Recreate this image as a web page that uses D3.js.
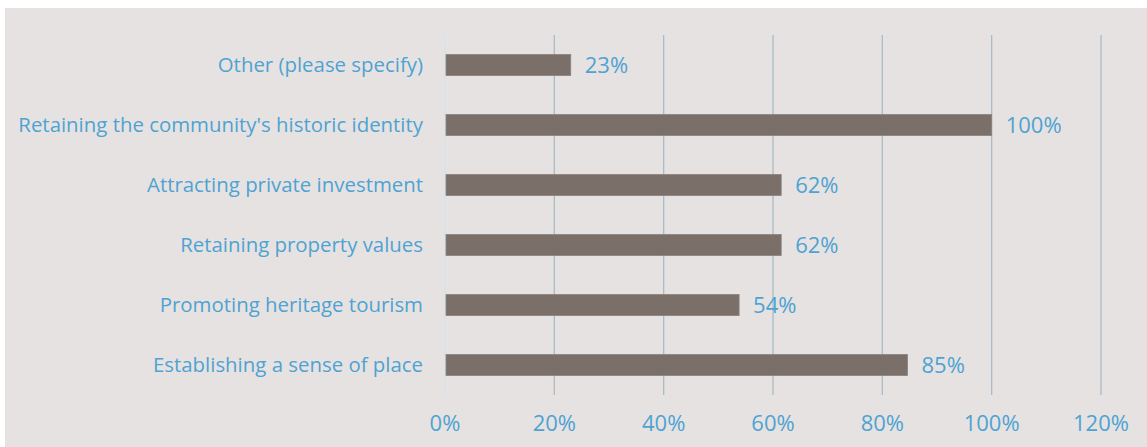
<!DOCTYPE html>
<html>
  <head>
    <meta charset="utf-8">
    <title>Benefits of preservation</title>
    <script src="https://d3js.org/d3.v7.min.js"></script>
    <style>
      body { margin: 0; background: #ffffff; }
      text { font-family: "Open Sans", "Noto Sans", sans-serif; fill: #4ea3d3; }
    </style>
  </head>
  <body>
    <svg id="chart" width="1147" height="447"></svg>
    <script>
      // data
      categories = [
        "Other (please specify)",
        "Retaining the community's historic identity",
        "Attracting private investment",
        "Retaining property values",
        "Promoting heritage tourism",
        "Establishing a sense of place"
      ];
      values = [0.23, 1.00, 0.615, 0.615, 0.538, 0.846];
      ticks = [0, 0.2, 0.4, 0.6, 0.8, 1.0, 1.2];

      svg = d3.select("#chart");
      svg.append("rect")
        .attr("x", 5).attr("y", 8)
        .attr("width", 1147 - 5).attr("height", 447 - 8)
        .attr("fill", "#e6e2e1");

      x = d3.scaleLinear().domain([0, 1.2]).range([445, 1101]);
      y = d3.scaleBand().domain(categories).range([35, 395]).paddingInner(0.65).paddingOuter(0.325);

      // grid lines
      svg.selectAll(".grid")
        .data(ticks)
        .enter().append("line")
          .attr("x1", d => x(d)).attr("x2", d => x(d))
          .attr("y1", 35).attr("y2", 395)
          .attr("stroke", d => d === 0 ? "#d3e3ee" : "#a9bcc6")
          .attr("stroke-width", 1.3);

      // tick labels
      svg.selectAll(".tick")
        .data(ticks)
        .enter().append("text")
          .attr("x", d => x(d))
          .attr("y", 431)
          .attr("text-anchor", "middle")
          .style("font-size", "22px")
          .text(d => Math.round(d * 100) + "%");

      // bars
      svg.selectAll(".bar")
        .data(values)
        .enter().append("rect")
          .attr("x", x(0) + 1)
          .attr("y", (d, i) => y(categories[i]))
          .attr("width", d => x(d) - x(0) - 1)
          .attr("height", y.bandwidth())
          .attr("fill", "#7a6f69")
          .attr("stroke", "#8c827d")
          .attr("stroke-width", 0.8);

      // value labels
      svg.selectAll(".val")
        .data(values)
        .enter().append("text")
          .attr("x", d => x(d) + 14)
          .attr("y", (d, i) => y(categories[i]) + y.bandwidth() / 2)
          .attr("dy", "0.35em")
          .style("font-size", "22px")
          .text(d => Math.round(d * 100) + "%");

      // category labels
      svg.selectAll(".cat")
        .data(categories)
        .enter().append("text")
          .attr("x", 423)
          .attr("y", d => y(d) + y.bandwidth() / 2)
          .attr("dy", "0.35em")
          .attr("text-anchor", "end")
          .style("font-size", "20.4px")
          .text(d => d);
    </script>
  </body>
</html>
